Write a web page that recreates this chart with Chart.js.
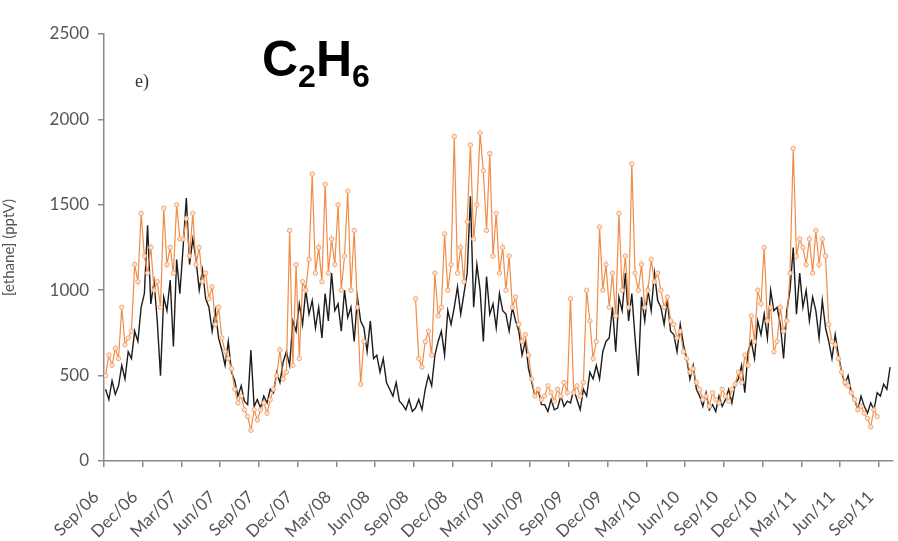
<!DOCTYPE html>
<html>
<head>
<meta charset="utf-8">
<script src="https://cdn.jsdelivr.net/npm/chart.js@4"></script>
<style>
body{margin:0;background:#fff;}
#wrap{position:relative;width:898px;height:541px;}
#title{position:absolute;left:262px;top:31px;font:bold 50px "Liberation Sans",Arial,sans-serif;color:#000;line-height:56px;}
#title sub{font-size:32px;vertical-align:baseline;position:relative;top:11px;}
#panel{position:absolute;left:135px;top:71px;font:18px "Liberation Serif",serif;color:#333;}
</style>
</head>
<body>
<div id="wrap">
  <canvas id="mainChart" width="898" height="541"></canvas>
  <div id="title">C<sub>2</sub>H<sub>6</sub></div>
  <div id="panel">e)</div>
</div>
<script>
// quarterly tick labels, one every 3 months from Sep 2006
const tickLabels = ['Sep/06','Dec/06','Mar/07','Jun/07','Sep/07','Dec/07','Mar/08','Jun/08',
  'Sep/08','Dec/08','Mar/09','Jun/09','Sep/09','Dec/09','Mar/10','Jun/10','Sep/10','Dec/10',
  'Mar/11','Jun/11','Sep/11'];

// weekly ethane (pptV), 4 values per month starting Sep 2006 - black trace
const modelEthane = [
  420,360,470,390, 440,560,480,640, 600,760,700,900, 980,1380,920,1050,
  820,500,960,880, 1060,670,1180,980, 1250,1540,1150,1300, 1180,1000,1120,950,
  900,760,880,720, 650,560,700,520, 470,380,440,350, 330,650,320,360,
  310,380,340,420, 400,520,460,580, 640,560,820,760, 920,800,1000,860,
  940,780,900,720, 980,820,1100,880, 920,760,1000,840, 900,700,960,820,
  780,640,820,600, 620,520,600,460, 420,380,460,350, 330,300,360,290,
  310,360,300,420, 500,440,620,700, 760,620,880,800, 900,1020,860,980,
  1100,1550,900,1150, 1000,700,1080,860, 920,780,980,880, 860,760,900,820,
  760,620,700,540, 460,380,420,330, 330,290,360,300, 310,380,320,350,
  340,420,360,300, 420,380,520,480, 560,480,640,700, 720,900,640,960,
  880,1100,820,980, 720,500,960,820, 1000,880,1100,940, 900,800,940,760,
  740,640,800,680, 600,480,560,420, 380,320,400,300, 330,290,380,320,
  360,420,340,450, 480,560,400,640, 700,600,820,740, 860,720,1000,880,
  900,800,600,880, 1000,1250,860,1100, 900,1000,820,960, 880,720,940,780,
  700,600,740,620, 520,450,500,400, 360,300,380,320, 280,340,300,400,
  380,450,420,550
];

// weekly ethane (pptV), same weeks - orange trace with gaps
const obsEthane = [
  500,620,560,660, 600,900,680,720, 760,1150,1050,1450, 1200,1100,1250,1000,
  1050,900,1480,1150, 1250,1100,1500,1300, 1300,1420,1200,1450, 1150,1250,1050,1100,
  950,1020,800,900, 720,640,600,540, 420,340,380,300, 260,180,300,240,
  300,340,280,360, 420,500,650,480, 520,1350,560,1150, 600,1050,1000,1180,
  1680,1100,1250,1050, 1620,1100,1300,1150, 1500,1000,1200,1580, 1000,1350,900,450,
  700,null,null,null, null,null,null,null, null,null,null,null, null,null,null,null,
  950,600,550,700, 760,620,1100,850, 900,1330,1000,1150, 1900,1100,1250,1050,
  1400,1850,1300,1500, 1920,1700,1350,1800, 1200,1450,1100,1250, 1000,1200,900,960,
  800,700,740,620, 480,380,420,360, 380,440,400,350, 420,380,460,400,
  950,400,440,380, 460,1000,820,600, 700,1370,1000,1150, 900,1100,850,1450,
  1000,1200,900,1740, 1100,1000,1150,900, 1000,1180,1050,1100, 1000,900,960,820,
  800,720,760,640, 600,520,540,460, 420,360,380,320, 400,360,340,420,
  380,350,420,450, 520,460,620,560, 850,700,1000,920, 1250,820,900,640,
  700,900,760,820, 1100,1830,1200,1300, 1250,1150,1300,1100, 1350,1150,1300,1200,
  800,700,680,600, 520,460,440,400, 360,300,320,280, 250,200,300,260,
  null,null,null,null
];

function toPoints(vals){
  return vals.map((v,i)=>({x:i/4+0.125, y:v}));
}

const axisColor = '#8a8a8a';
const textColor = '#555';

function plotEthane(){
  const ctx = document.getElementById('mainChart').getContext('2d');
  window.myChart = new Chart(ctx, {
    type: 'line',
    data: {
      datasets: [{
        label: 'black',
        data: toPoints(modelEthane),
        borderColor: '#1c1c1c',
        borderWidth: 1.4,
        pointRadius: 0,
        tension: 0,
        order: 2
      },{
        label: 'orange',
        data: toPoints(obsEthane),
        borderColor: 'rgb(240,140,70)',
        borderWidth: 1.2,
        pointRadius: 2.2,
        pointBorderWidth: 1,
        pointBorderColor: 'rgb(242,165,115)',
        pointBackgroundColor: 'rgba(255,230,210,0.9)',
        spanGaps: false,
        tension: 0,
        order: 1
      }]
    },
    options: {
      responsive: false,
      animation: false,
      devicePixelRatio: 1,
      layout: {padding: {top: 34, right: 1, left: 0, bottom: 0}},
      plugins: {legend: {display: false}, tooltip: {enabled: false}},
      scales: {
        x: {
          type: 'linear',
          min: 0,
          max: 61.1,
          afterBuildTicks: s => { s.ticks = tickLabels.map((_, i) => ({value: i * 3})); },
          afterFit: s => {
            s.height = 80;
            // keep the plot running to the right edge
            s.paddingRight = 0;
            s.paddingLeft = 0;
          },
          ticks: {
            autoSkip: false,
            minRotation: 45,
            maxRotation: 45,
            padding: 20,
            labelOffset: -8,
            color: textColor,
            font: {family: 'Lato', size: 17},
            callback: (v, i) => tickLabels[i]
          },
          grid: {drawOnChartArea: false, tickLength: 6, color: axisColor, lineWidth: 1.5},
          border: {color: axisColor, width: 1.5}
        },
        y: {
          min: 0,
          max: 2500,
          afterFit: s => { s.width = 104; },
          ticks: {
            stepSize: 500,
            padding: 9,
            color: textColor,
            font: {family: 'Lato', size: 17},
            callback: v => String(v)
          },
          title: {
            display: true,
            text: '[ethane] (pptV)',
            color: textColor,
            font: {family: 'Lato', size: 15},
            padding: {top: 0, bottom: 2}
          },
          grid: {drawOnChartArea: false, tickLength: 6, color: axisColor, lineWidth: 1.5},
          border: {color: axisColor, width: 1.5}
        }
      }
    }
  });
}
document.addEventListener('DOMContentLoaded', plotEthane);
</script>
</body>
</html>
